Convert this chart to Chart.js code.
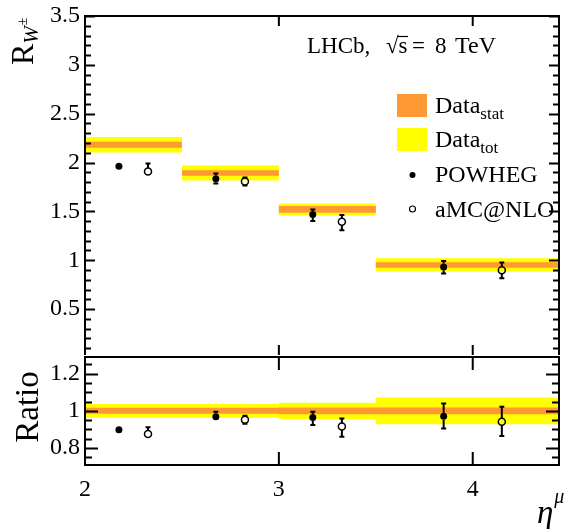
<!DOCTYPE html>
<html>
<head>
<meta charset="utf-8">
<title>R_W vs eta</title>
<script src="https://cdn.jsdelivr.net/npm/chart.js@4.4.1/dist/chart.umd.min.js"></script>
<style>
  body { margin: 0; background: #fff; }
  #wrap { position: relative; width: 569px; height: 529px; }
  #top { position: absolute; left: 0; top: 0; }
  #bot { position: absolute; left: 0; top: 340px; }
</style>
</head>
<body>
<div id="wrap">
  <canvas id="top" width="569" height="360"></canvas>
  <canvas id="bot" width="569" height="189"></canvas>
</div>
<script>
// bins in eta
var binEdges = [2.0, 2.5, 3.0, 3.5, 4.5];

// measured ratio R_W with stat and total uncertainty
var dataVal  = [2.182, 1.893, 1.520, 0.952];
var dataStat = [0.030, 0.027, 0.034, 0.028];
var dataTot  = [0.080, 0.077, 0.062, 0.068];

// predictions
var powhegX  = [2.175, 2.675, 3.175, 3.85];
var powhegY  = [1.962, 1.834, 1.469, 0.932];
var powhegUp = [0.015, 0.054, 0.051, 0.061];
var powhegDn = [0.015, 0.048, 0.068, 0.068];

var amcX  = [2.325, 2.825, 3.325, 4.15];
var amcY  = [1.908, 1.806, 1.395, 0.898];
var amcUp = [0.082, 0.041, 0.067, 0.079];
var amcDn = [0.020, 0.041, 0.089, 0.082];

// ratio panel
var ratioStat     = [0.016, 0.016, 0.018, 0.018];
var ratioTot      = [0.037, 0.037, 0.044, 0.072];
var ratioPowheg   = [0.898, 0.968, 0.964, 0.971];
var ratioPowhegUp = [0.010, 0.027, 0.031, 0.069];
var ratioPowhegDn = [0.010, 0.018, 0.041, 0.066];
var ratioAmc      = [0.875, 0.952, 0.916, 0.941];
var ratioAmcUp    = [0.036, 0.021, 0.043, 0.081];
var ratioAmcDn    = [0.010, 0.022, 0.056, 0.077];

var topTicks   = [0.5, 1, 1.5, 2, 2.5, 3, 3.5];
var ratioTicks = [0.8, 1, 1.2];
var xTicks     = [2, 3, 4];

var ORANGE = '#ff9933';
var YELLOW = '#ffff00';
var FONT = 'Liberation Serif';

function pts(xs, ys) {
  return xs.map(function(x, i) { return {x: x, y: ys[i]}; });
}
// stepped outline over the bins, value of bin i held from edge i to edge i+1
function steps(center, err, sign) {
  var out = [];
  for (var i = 0; i < binEdges.length; i++) {
    var k = Math.min(i, err.length - 1);
    var c = typeof center === 'number' ? center : center[k];
    out.push({x: binEdges[i], y: c + sign * err[k]});
  }
  return out;
}
function band(data, color, fill) {
  return {data: data, stepped: true, fill: fill ? '+1' : false, backgroundColor: color,
          borderColor: 'rgba(0,0,0,0)', borderWidth: 0, pointRadius: 0, pointHoverRadius: 0};
}
function markers(data, filled) {
  return {data: data, showLine: false, pointRadius: 3.5, pointHoverRadius: 3.5,
          pointStyle: 'circle',
          pointBackgroundColor: filled ? '#000' : 'rgba(0,0,0,0)',
          pointBorderColor: '#000', pointBorderWidth: filled ? 0 : 1.5};
}

// ROOT-like frame with inward ticks on all sides
function framePlugin(o) {
  return {
    id: 'frame',
    afterDatasetsDraw: function(chart) {
      var a = chart.chartArea, ctx = chart.ctx;
      var ys = chart.scales.y, xs = chart.scales.x;
      ctx.save();
      ctx.strokeStyle = '#000';
      ctx.lineWidth = 2;
      ctx.beginPath();
      if (o.openBottom) {
        ctx.moveTo(a.left, a.bottom); ctx.lineTo(a.left, a.top);
        ctx.lineTo(a.right, a.top); ctx.lineTo(a.right, a.bottom);
      } else {
        ctx.rect(a.left, a.top, a.right - a.left, a.bottom - a.top);
      }
      var k0 = Math.ceil(ys.min / o.minorStep - 1e-6), k1 = Math.floor(ys.max / o.minorStep + 1e-6);
      for (var k = k0; k <= k1; k++) {
        var v = k * o.minorStep;
        var major = o.yMajor.some(function(m) { return Math.abs(m - v) < 1e-6; });
        var len = major ? o.majLen : o.minLen;
        var py = Math.round(ys.getPixelForValue(v)) + 0.5;
        ctx.moveTo(a.left, py); ctx.lineTo(a.left + len, py);
        ctx.moveTo(a.right, py); ctx.lineTo(a.right - len, py);
      }
      xTicks.forEach(function(v) {
        var px = xs.getPixelForValue(v);
        ctx.moveTo(px, a.top); ctx.lineTo(px, a.top + o.xLen);
        ctx.moveTo(px, a.bottom); ctx.lineTo(px, a.bottom - o.xLen);
      });
      ctx.stroke();
      ctx.restore();
    }
  };
}

// vertical error bars, kept outside the marker
function errorPlugin(sets) {
  return {
    id: 'errors',
    afterDatasetsDraw: function(chart) {
      var ctx = chart.ctx, xs = chart.scales.x, ys = chart.scales.y, r = 3.5;
      ctx.save();
      ctx.strokeStyle = '#000';
      ctx.lineWidth = 2;
      ctx.beginPath();
      sets.forEach(function(s) {
        s.x.forEach(function(x, i) {
          var px = xs.getPixelForValue(x);
          var py = ys.getPixelForValue(s.y[i]);
          var pu = ys.getPixelForValue(s.y[i] + s.up[i]);
          var pd = ys.getPixelForValue(s.y[i] - s.dn[i]);
          if (py - pu > r) {
            ctx.moveTo(px, py - r); ctx.lineTo(px, pu);
            ctx.moveTo(px - 2.5, pu); ctx.lineTo(px + 2.5, pu);
          }
          if (pd - py > r) {
            ctx.moveTo(px, py + r); ctx.lineTo(px, pd);
            ctx.moveTo(px - 2.5, pd); ctx.lineTo(px + 2.5, pd);
          }
        });
      });
      ctx.stroke();
      ctx.restore();
    }
  };
}

var topText = {
  id: 'topText',
  afterDraw: function(chart) {
    var ctx = chart.ctx;
    ctx.save();
    ctx.fillStyle = '#000';
    ctx.strokeStyle = '#000';
    ctx.textBaseline = 'alphabetic';
    ctx.textAlign = 'left';

    // experiment label
    ctx.font = '23px ' + FONT;
    ctx.fillText('LHCb,', 307, 53);
    ctx.fillText('\u221A', 386, 53);
    var sx = 386 + ctx.measureText('\u221A').width;
    ctx.fillText('s', sx, 53);
    var se = sx + ctx.measureText('s').width;
    ctx.lineWidth = 1.2;
    ctx.beginPath();
    ctx.moveTo(sx - 1, 36.5); ctx.lineTo(se + 0.5, 36.5);
    ctx.stroke();
    ctx.fillText('=', 412, 53);
    ctx.fillText('8', 435, 53);
    ctx.font = '24px ' + FONT;
    ctx.fillText('TeV', 455, 53);

    // legend
    ctx.fillStyle = ORANGE;
    ctx.fillRect(397, 94, 30, 23);
    ctx.fillStyle = YELLOW;
    ctx.fillRect(397, 128, 30, 23);
    ctx.fillStyle = '#000';
    ctx.font = '24px ' + FONT;
    var dw = ctx.measureText('Data').width;
    ctx.fillText('Data', 435, 113);
    ctx.fillText('Data', 435, 147);
    ctx.fillText('POWHEG', 435, 182);
    ctx.fillText('aMC@NLO', 435, 216.5);
    ctx.font = '17px ' + FONT;
    ctx.fillText('stat', 435 + dw, 118.5);
    ctx.fillText('tot', 435 + dw, 152.5);
    ctx.beginPath();
    ctx.arc(412.5, 175, 3, 0, Math.PI * 2);
    ctx.fill();
    ctx.lineWidth = 1.2;
    ctx.beginPath();
    ctx.arc(412.5, 209, 3, 0, Math.PI * 2);
    ctx.stroke();

    // y title R_{W^{+-}}
    ctx.translate(33, 65);
    ctx.rotate(-Math.PI / 2);
    ctx.font = '32px ' + FONT;
    ctx.fillText('R', 0, 0);
    var rw = ctx.measureText('R').width;
    ctx.font = 'italic 21px ' + FONT;
    ctx.fillText('W', rw, 5);
    var ww = ctx.measureText('W').width;
    ctx.font = '14px ' + FONT;
    ctx.fillText('\u00B1', rw + ww + 1, -6);
    ctx.restore();
  }
};

var botText = {
  id: 'botText',
  afterDraw: function(chart) {
    var ctx = chart.ctx;
    ctx.save();
    ctx.fillStyle = '#000';
    ctx.textBaseline = 'alphabetic';
    ctx.font = 'italic 33px ' + FONT;
    ctx.textAlign = 'left';
    ctx.fillText('\u03B7', 537, 183);
    var ew = ctx.measureText('\u03B7').width;
    ctx.font = 'italic 20px ' + FONT;
    ctx.fillText('\u03BC', 537 + ew + 1, 163);
    ctx.translate(38, 67);
    ctx.rotate(-Math.PI / 2);
    ctx.textAlign = 'center';
    ctx.font = '33px ' + FONT;
    ctx.fillText('Ratio', 0, 0);
    ctx.restore();
  }
};

Chart.defaults.font.family = FONT;
Chart.defaults.color = '#000';

var xMin = 2, xMax = 4.445;

function yAxis(min, max, ticks) {
  return {
    type: 'linear', min: min, max: max,
    afterFit: function(s) { s.width = 85; s.paddingTop = 0; s.paddingBottom = 0; },
    afterBuildTicks: function(s) { s.ticks = ticks.map(function(v) { return {value: v}; }); },
    grid: {display: false, drawTicks: false},
    border: {display: false},
    ticks: {padding: 5, font: {size: 24}, callback: function(v) { return String(v); }}
  };
}

new Chart(document.getElementById('top'), {
  type: 'line',
  data: {
    datasets: [
      markers(pts(powhegX, powhegY), true),
      markers(pts(amcX, amcY), false),
      band(steps(dataVal, dataStat, 1), ORANGE, true),
      band(steps(dataVal, dataStat, -1), ORANGE, false),
      band(steps(dataVal, dataTot, 1), YELLOW, true),
      band(steps(dataVal, dataTot, -1), YELLOW, false)
    ]
  },
  options: {
    responsive: false, animation: false, devicePixelRatio: 1,
    layout: {padding: {top: 16, right: 10, bottom: 3, left: 0}},
    plugins: {legend: {display: false}, tooltip: {enabled: false}},
    events: [],
    scales: {
      x: {type: 'linear', min: xMin, max: xMax, display: false},
      y: yAxis(0.03, 3.5, topTicks)
    }
  },
  plugins: [
    framePlugin({yMajor: topTicks, minorStep: 0.1, majLen: 10, minLen: 6, xLen: 10, openBottom: true}),
    errorPlugin([{x: powhegX, y: powhegY, up: powhegUp, dn: powhegDn},
                 {x: amcX, y: amcY, up: amcUp, dn: amcDn}]),
    topText
  ]
});

new Chart(document.getElementById('bot'), {
  type: 'line',
  data: {
    datasets: [
      markers(pts(powhegX, ratioPowheg), true),
      markers(pts(amcX, ratioAmc), false),
      band(steps(1, ratioStat, 1), ORANGE, true),
      band(steps(1, ratioStat, -1), ORANGE, false),
      band(steps(1, ratioTot, 1), YELLOW, true),
      band(steps(1, ratioTot, -1), YELLOW, false)
    ]
  },
  options: {
    responsive: false, animation: false, devicePixelRatio: 1,
    layout: {padding: {top: 17, right: 10, bottom: 0, left: 0}},
    plugins: {legend: {display: false}, tooltip: {enabled: false}},
    events: [],
    scales: {
      x: {
        type: 'linear', min: xMin, max: xMax,
        afterFit: function(s) { s.height = 64; s.paddingLeft = 0; s.paddingRight = 0; },
        afterBuildTicks: function(s) { s.ticks = xTicks.map(function(v) { return {value: v}; }); },
        grid: {display: false, drawTicks: false},
        border: {display: false},
        ticks: {padding: 10, font: {size: 24}, maxRotation: 0, callback: function(v) { return String(v); }}
      },
      y: yAxis(0.708, 1.29, ratioTicks)
    }
  },
  plugins: [
    framePlugin({yMajor: ratioTicks, minorStep: 0.05, majLen: 13, minLen: 7, xLen: 13}),
    errorPlugin([{x: powhegX, y: ratioPowheg, up: ratioPowhegUp, dn: ratioPowhegDn},
                 {x: amcX, y: ratioAmc, up: ratioAmcUp, dn: ratioAmcDn}]),
    botText
  ]
});
</script>
</body>
</html>
